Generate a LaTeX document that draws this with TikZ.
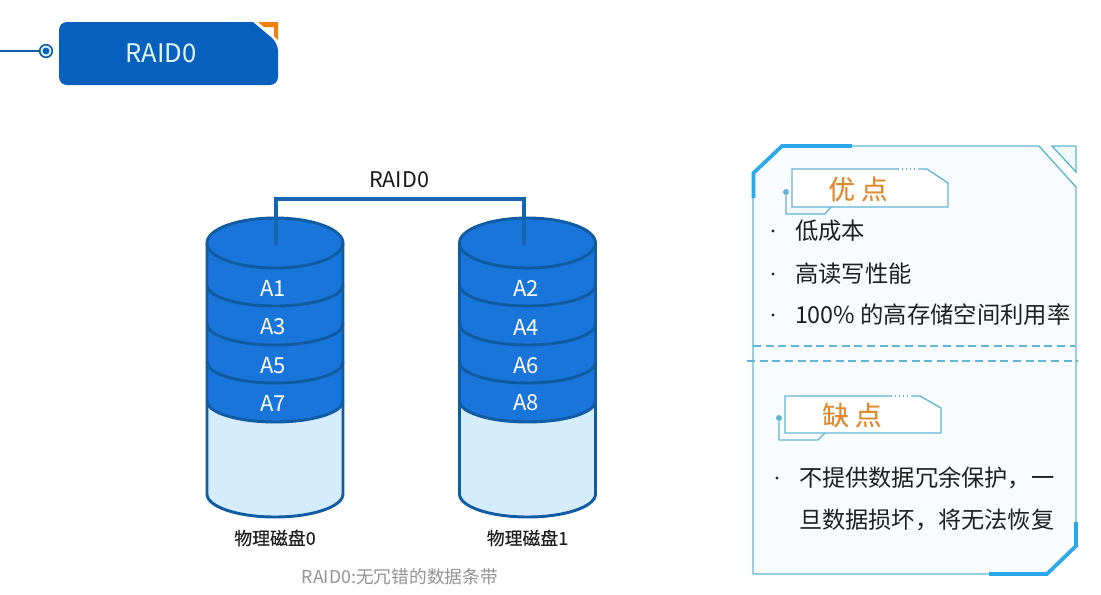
\documentclass[tikz,border=0pt]{standalone}
\usepackage{fontspec}
\setmainfont{Noto Sans CJK SC}
\newfontfamily\medfont[FakeBold=0.3]{Noto Sans CJK SC}
\newcommand{\fsz}[1]{\fontsize{#1pt}{#1pt}\selectfont}
\newcommand{\fwcomma}{\char"FF0C\relax}
\definecolor{diskblue}{HTML}{1A75DB}
\definecolor{diskedge}{HTML}{0F5CA3}
\definecolor{linkblue}{HTML}{1565B0}
\definecolor{disklight}{HTML}{D5ECFC}
\definecolor{titleblue}{HTML}{0660BC}
\definecolor{panelline}{HTML}{62B5D3}
\definecolor{panelthick}{HTML}{2BA8EA}
\definecolor{panelfill}{HTML}{F8FBFF}
\definecolor{orangetxt}{HTML}{E08A30}
\definecolor{orangetip}{HTML}{F08010}
\tikzset{
  lbl/.style={inner sep=0pt,outer sep=0pt},
  celltext/.style={lbl,text=white,font=\fsz{16.5}},
  disktext/.style={lbl,text=black!88,font=\medfont\fsz{13.4}},
  bodytext/.style={lbl,anchor=west,text=black!88,font=\fsz{17.5}},
  badgetext/.style={lbl,text=orangetxt,font=\medfont\fsz{20}},
  bulletdot/.style={circle,fill=black!85,inner sep=0pt,minimum size=2.4pt},
  diskline/.style={draw=diskedge,line width=2.2pt},
  linkline/.style={draw=linkblue,line width=2.5pt},
  thinpanel/.style={draw=panelline,line width=1pt},
  thickpanel/.style={draw=panelthick,line width=2.8pt},
  dashpanel/.style={draw=panelline,line width=0.8pt,dash pattern=on 6pt off 3.5pt},
}
\begin{document}
\begin{tikzpicture}[x=0.75pt,y=-0.75pt]
\useasboundingbox (0,0) rectangle (1101,594);
\fill[white] (0,0) rectangle (1101,594);
% heading
\fill[titleblue] (253,22) [rounded corners=6pt] -- (59,22) -- (59,85) -- (278,85) -- (278,43) [sharp corners] -- cycle;
\fill[orangetip] (258,22) -- (278,22) -- (278,40) -- (274,36) -- (274,27) -- (264,27) -- cycle;
\node[lbl,text=white!88!cyan,font=\fsz{19.2}] (title) at (161,53) {RAID0};
\coordinate (tstart) at (0,51);
\node[circle,draw=diskedge,line width=1.2pt,fill=disklight,minimum size=9.5pt,inner sep=0pt] (tdot) at (46,51) {};
\node[circle,fill=titleblue,minimum size=5pt,inner sep=0pt] (tcore) at (46,51) {};
\draw[draw=diskedge,line width=1pt] (tstart) -- (tdot);
% disks
\foreach \cx/\name in {275/a,527.5/b}{
  \path[fill=disklight] (\cx-68,243) -- (\cx-68,494)
     arc[start angle=180,end angle=0,x radius=68,y radius=23] -- (\cx+68,243) -- cycle;
  \path[fill=diskblue] (\cx-68,243) -- (\cx-68,401)
     arc[start angle=180,end angle=0,x radius=68,y radius=21] -- (\cx+68,243)
     arc[start angle=0,end angle=-180,x radius=68,y radius=25] -- cycle;
  \foreach \yy in {285,324,362,401}{
    \draw[diskline] (\cx-68,\yy) arc[start angle=180,end angle=0,x radius=68,y radius=21];
  }
  \draw[diskline] (\cx,243) ellipse[x radius=68,y radius=25];
  \draw[diskline] (\cx-68,243) -- (\cx-68,494)
     arc[start angle=180,end angle=0,x radius=68,y radius=23] -- (\cx+68,243);
}
\coordinate (la) at (276,245);
\coordinate (lb) at (524,245);
\coordinate (lm) at (399,199);
\draw[linkline] (la) |- (lm) -| (lb);
\node[lbl,text=black!90,font=\fsz{16.2}] (raid) at (399,180) {RAID0};
\foreach \t/\x/\y in {A1/273/288,A3/273/327,A5/273/366,A7/273/403,A2/526/288,A4/526/327,A6/526/366,A8/526/403}{
  \node[celltext] (cell\t) at (\x,\y) {\t};
}
\node[disktext] (d0) at (275,538) {物理磁盘0};
\node[disktext] (d1) at (527.5,538) {物理磁盘1};
\node[lbl,text=black!42,font=\fsz{13.3}] (cap) at (400,577) {RAID0:无冗错的数据条带};
% panel
\path[fill=panelfill,thinpanel] (753,173) -- (782,146) -- (1039,146) -- (1076,187) -- (1076,546) -- (1047,574) -- (753,574) -- cycle;
\path[fill=white!90!panelline,thinpanel] (1052,146) -- (1076,146) -- (1076,172) -- cycle;
\draw[thickpanel] (753.5,198) -- (753.5,173) -- (782,146) -- (852,146);
\draw[thickpanel] (989,574) -- (1047,574) -- (1076,546) -- (1076,522);
\draw[dashpanel] (753,346) -- (1075,346);
\draw[dashpanel] (747,361) -- (1078,361);
% badge 1
\path[fill=white,thinpanel] (898,169) -- (792,169) -- (792,207) -- (948,207) -- (948,183) -- (927,169) -- (918,169);
\draw[panelline,line width=1pt,dotted] (898,169) -- (918,169);
\node[circle,fill=panelline,inner sep=0pt,minimum size=4.5pt] (b1dot) at (786,192) {};
\draw[panelline,line width=1pt] (b1dot) -- (786,214) -- (825,214) -- (831,207);
\node[badgetext] (b1) at (858,189) {优 点};
% badge 2
\path[fill=white,thinpanel] (891,396) -- (785,396) -- (785,433) -- (941,433) -- (941,408) -- (920,396) -- (911,396);
\draw[panelline,line width=1pt,dotted] (891,396) -- (911,396);
\node[circle,fill=panelline,inner sep=0pt,minimum size=4.5pt] (b2dot) at (779,418) {};
\draw[panelline,line width=1pt] (b2dot) -- (779,440) -- (818,440) -- (825,433);
\node[badgetext] (b2) at (852,415) {缺 点};
% bullets
\foreach \y/\n in {231/p,274/q,315/r}{ \node[bulletdot] (dot\n) at (773,\y) {}; }
\node[bulletdot] (dots) at (777,478) {};
\node[bodytext] (t1) at (795,231) {低成本};
\node[bodytext] (t2) at (795,274) {高读写性能};
\node[bodytext] (t3) at (795,315) {100\% 的高存储空间利用率};
\node[bodytext,font=\fsz{17.4}] (t4) at (799,478) {不提供数据冗余保护\fwcomma 一};
\node[bodytext,font=\fsz{17.4}] (t5) at (799,520) {旦数据损坏\fwcomma 将无法恢复};
\end{tikzpicture}
\end{document}
